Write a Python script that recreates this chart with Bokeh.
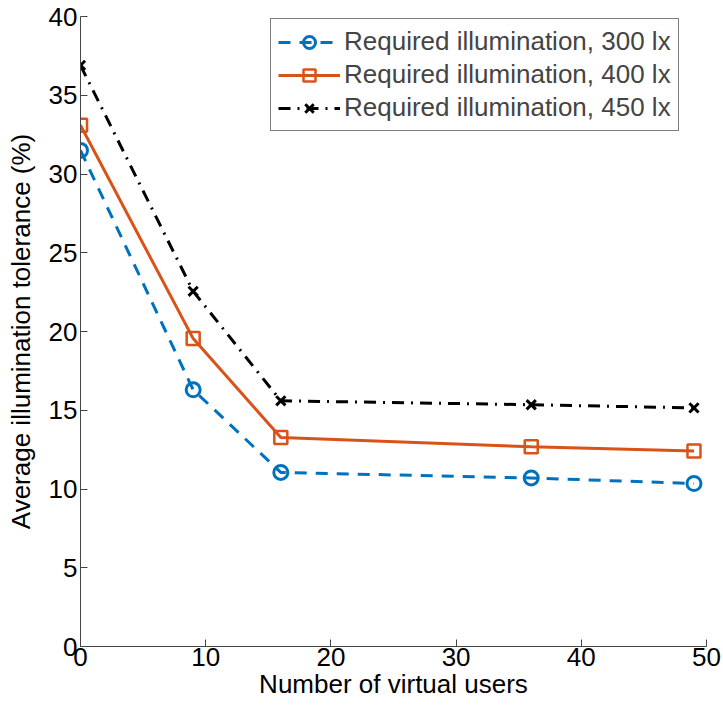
from bokeh.plotting import figure
from bokeh.embed import file_html
from bokeh.resources import INLINE
from bokeh.models import Range1d, Legend, LegendItem

users = [0, 9, 16, 36, 49]
tol_300 = [31.5, 16.3, 11.05, 10.7, 10.35]
tol_400 = [33.1, 19.55, 13.27, 12.68, 12.42]
tol_450 = [36.9, 22.55, 15.6, 15.35, 15.15]
x_ticks = [0, 10, 20, 30, 40, 50]
y_ticks = [0, 5, 10, 15, 20, 25, 30, 35, 40]

FONT = "Liberation Sans"
p = figure(width=723, height=709, output_backend="svg", toolbar_location=None,
           x_range=Range1d(0, 50), y_range=Range1d(0, 40),
           min_border_left=80, min_border_right=17, min_border_top=16, min_border_bottom=63)
p.xgrid.visible = False
p.ygrid.visible = False
p.outline_line_color = None

blue = "#0072BD"
orange = "#D95319"

r1l = p.line(users, tol_300, line_color=blue, line_width=3, line_dash="12 9")
r1m = p.scatter(users, tol_300, marker="circle", size=14, fill_color="white", fill_alpha=0,
                line_color=blue, line_width=3)
r2l = p.line(users, tol_400, line_color=orange, line_width=3)
r2m = p.scatter(users, tol_400, marker="square", size=13, fill_color="white", fill_alpha=0,
                line_color=orange, line_width=2.5)
r3l = p.line(users, tol_450, line_color="black", line_width=3, line_dash="12 7 2 7")
r3m = p.scatter(users, tol_450, marker="x", size=13, line_color="black", line_width=3)

legend = Legend(items=[
    LegendItem(label="Required illumination, 300 lx", renderers=[r1l, r1m]),
    LegendItem(label="Required illumination, 400 lx", renderers=[r2l, r2m]),
    LegendItem(label="Required illumination, 450 lx", renderers=[r3l, r3m]),
], location=(190, 515))
legend.label_text_font = FONT
legend.label_text_font_size = "26px"
legend.border_line_color = "black"
legend.border_line_width = 1
legend.margin = 0
legend.padding = 7
legend.spacing = 2
legend.glyph_width = 62
legend.glyph_height = 30
legend.label_standoff = 4
legend.label_height = 30
p.add_layout(legend, "center")

for ax in (p.xaxis[0], p.yaxis[0]):
    ax.major_label_text_font = FONT
    ax.major_label_text_font_size = "26px"
    ax.major_label_text_color = "black"
    ax.axis_label_text_font = FONT
    ax.axis_label_text_font_size = "26px"
    ax.axis_label_text_font_style = "normal"
    ax.axis_label_text_color = "black"
    ax.axis_line_color = "#444444"
    ax.major_tick_line_color = "#444444"
    ax.major_tick_in = 7
    ax.major_tick_out = 0
    ax.minor_tick_line_color = None
    ax.axis_line_width = 1

p.xaxis.ticker = x_ticks
p.yaxis.ticker = y_ticks
p.xaxis.axis_label = "Number of virtual users"
p.yaxis.axis_label = "Average illumination tolerance (%)"
p.xaxis.major_label_standoff = 1
p.yaxis.major_label_standoff = 3
p.xaxis.axis_label_standoff = 0
p.yaxis.axis_label_standoff = 10

open("out.html", "w").write(file_html(p, INLINE))
